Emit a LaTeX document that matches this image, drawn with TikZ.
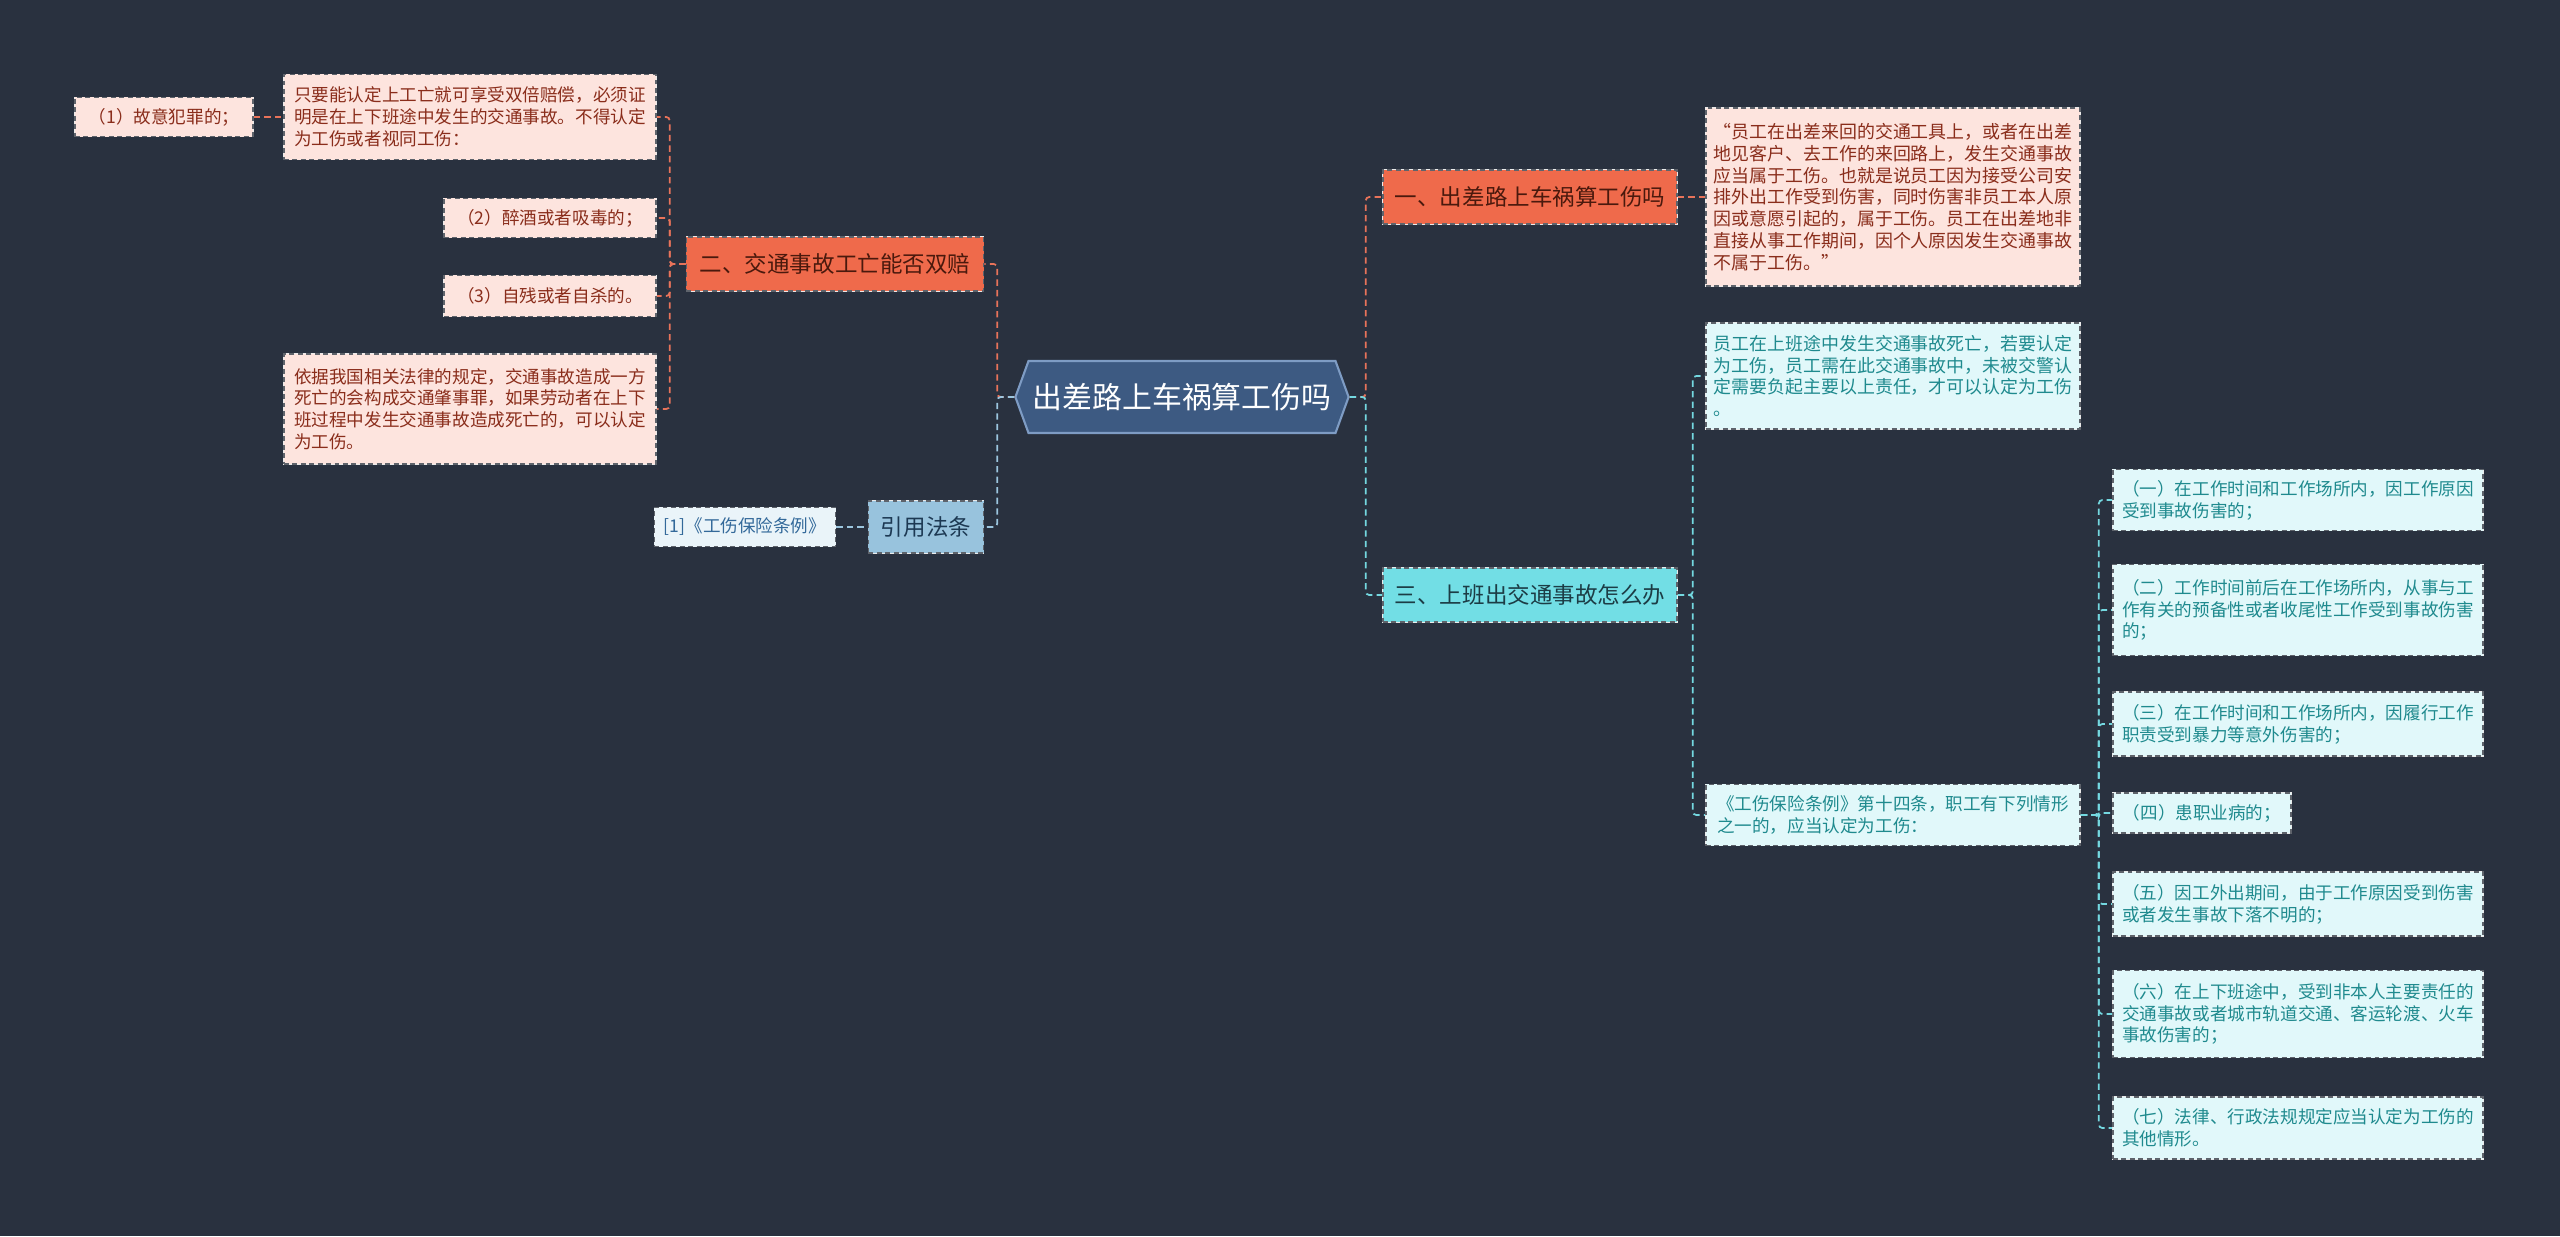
\documentclass[tikz,border=0pt]{standalone}
\usepackage{fontspec}
\setmainfont{Noto Sans CJK SC}
\usetikzlibrary{shapes.symbols}

\definecolor{bgc}{HTML}{29313F}
\definecolor{rootc}{HTML}{3D5A82}
\definecolor{rootedge}{HTML}{7E9CC4}
\definecolor{hotc}{HTML}{EF6A4B}
\definecolor{hottext}{HTML}{4A190D}
\definecolor{pinkc}{HTML}{FDE4DE}
\definecolor{pinktext}{HTML}{8A2D1B}
\definecolor{cyanc}{HTML}{72DEE5}
\definecolor{cyantext}{HTML}{1C3C45}
\definecolor{icec}{HTML}{E1F8FA}
\definecolor{icetext}{HTML}{1F8A8E}
\definecolor{skyc}{HTML}{98C3DD}
\definecolor{skytext}{HTML}{1D3953}
\definecolor{mistc}{HTML}{EAF4F9}
\definecolor{misttext}{HTML}{33699A}
\definecolor{hotline}{HTML}{E8735A}
\definecolor{cyanline}{HTML}{74D8E0}
\definecolor{skyline}{HTML}{9CC6DF}
\definecolor{boxedge}{HTML}{5E636B}

\begin{document}
\begin{tikzpicture}[x=0.01cm,y=0.01cm,
 root/.style={signal,signal to=west and east,signal pointer angle=140,fill=rootc,draw=rootedge,line width=0.6pt,
   text=white,inner sep=0pt,minimum width=3.33cm,minimum height=0.72cm,font=\fontsize{8.5pt}{10pt}\selectfont},
 edge/.style={draw=boxedge,dash pattern=on 1.4pt off 1pt,line width=0.4pt,preaction={draw=white!92!black,solid,line width=0.4pt}},
 head/.style={edge,inner sep=0pt,minimum height=0.54cm,font=\fontsize{6.4pt}{7.5pt}\selectfont},
 hot/.style={head,fill=hotc,text=hottext},
 cool/.style={head,fill=cyanc,text=cyantext},
 cite/.style={head,fill=skyc,text=skytext},
 leaf/.style={edge,align=left,inner sep=0pt,font=\fontsize{5pt}{6.2pt}\selectfont},
 pink/.style={leaf,fill=pinkc,text=pinktext},
 ice/.style={leaf,fill=icec,text=icetext},
 mist/.style={leaf,fill=mistc,text=misttext},
 big/.style={font=\fontsize{5.1pt}{6.2pt}\selectfont},
 link/.style={dash pattern=on 1.8pt off 1.2pt,line width=0.5pt,rounded corners=1pt}]
\useasboundingbox[fill=bgc] (0,0) rectangle (2560,-1236);

\node[root] (root) at (1182,-397) {出差路上车祸算工伤吗};

\node[hot,minimum width=2.94cm] (one) at (1530,-197) {一、出差路上车祸算工伤吗};
\node[pink,big,minimum width=3.74cm,minimum height=1.78cm] (quote) at (1893,-197) {“员工在出差来回的交通工具上，或者在出差\\地见客户、去工作的来回路上，发生交通事故\\应当属于工伤。也就是说员工因为接受公司安\\排外出工作受到伤害，同时伤害非员工本人原\\因或意愿引起的，属于工伤。员工在出差地非\\直接从事工作期间，因个人原因发生交通事故\\不属于工伤。”};

\node[cool,minimum width=2.94cm] (three) at (1530,-595) {三、上班出交通事故怎么办};
\node[ice,big,minimum width=3.74cm,minimum height=1.06cm] (duty) at (1893,-376) {员工在上班途中发生交通事故死亡，若要认定\\为工伤，员工需在此交通事故中，未被交警认\\定需要负起主要以上责任，才可以认定为工伤\\。};
\node[ice,minimum width=3.74cm,minimum height=0.61cm] (regs) at (1893,-815) {《工伤保险条例》第十四条，职工有下列情形\\之一的，应当认定为工伤：};

\node[ice,minimum width=3.70cm,minimum height=0.61cm] (c1) at (2298,-500) {（一）在工作时间和工作场所内，因工作原因\\受到事故伤害的；};
\node[ice,minimum width=3.70cm,minimum height=0.91cm] (c2) at (2298,-610) {（二）工作时间前后在工作场所内，从事与工\\作有关的预备性或者收尾性工作受到事故伤害\\的；};
\node[ice,minimum width=3.70cm,minimum height=0.64cm] (c3) at (2298,-724) {（三）在工作时间和工作场所内，因履行工作\\职责受到暴力等意外伤害的；};
\node[ice,minimum width=1.78cm,minimum height=0.40cm] (c4) at (2202,-813) {（四）患职业病的；};
\node[ice,minimum width=3.70cm,minimum height=0.64cm] (c5) at (2298,-904) {（五）因工外出期间，由于工作原因受到伤害\\或者发生事故下落不明的；};
\node[ice,minimum width=3.70cm,minimum height=0.87cm] (c6) at (2298,-1014) {（六）在上下班途中，受到非本人主要责任的\\交通事故或者城市轨道交通、客运轮渡、火车\\事故伤害的；};
\node[ice,minimum width=3.70cm,minimum height=0.62cm] (c7) at (2298,-1128) {（七）法律、行政法规规定应当认定为工伤的\\其他情形。};

\node[hot,minimum width=2.97cm] (two) at (835,-264) {二、交通事故工亡能否双赔};
\node[pink,minimum width=3.72cm,minimum height=0.85cm] (claim) at (470,-117) {只要能认定上工亡就可享受双倍赔偿，必须证\\明是在上下班途中发生的交通事故。不得认定\\为工伤或者视同工伤：};
\node[pink,minimum width=1.78cm,minimum height=0.39cm] (k1) at (164,-117) {（1）故意犯罪的；};
\node[pink,minimum width=2.12cm,minimum height=0.39cm] (k2) at (550,-218) {（2）醉酒或者吸毒的；};
\node[pink,minimum width=2.12cm,minimum height=0.41cm] (k3) at (550,-296) {（3）自残或者自杀的。};
\node[pink,minimum width=3.72cm,minimum height=1.10cm] (law) at (470,-409) {依据我国相关法律的规定，交通事故造成一方\\死亡的会构成交通肇事罪，如果劳动者在上下\\班过程中发生交通事故造成死亡的，可以认定\\为工伤。};

\node[cite,minimum width=1.15cm,minimum height=0.52cm] (cite) at (926,-527) {引用法条};
\node[mist,minimum width=1.81cm,minimum height=0.39cm] (ref) at (745,-527) {[1]《工伤保险条例》};

\draw[link,hotline] (root.west) -- ++(-17,0) |- (two.east);
\draw[link,skyline] (root.west) -- ++(-17,0) |- (cite.east);
\draw[link,hotline] (root.east) -- ++(16,0) |- (one.west);
\draw[link,cyanline] (root.east) -- ++(16,0) |- (three.west);
\draw[link,hotline] (one.east) -- (quote.west);
\draw[link,cyanline] (three.east) -- ++(15,0) |- (duty.west);
\draw[link,cyanline] (three.east) -- ++(15,0) |- (regs.west);
\foreach \k in {c1,c2,c3,c4,c5,c6,c7}
  \draw[link,cyanline] (regs.east) -- ++(18,0) |- (\k.west);
\foreach \k in {claim,k2,k3,law}
  \draw[link,hotline] (two.west) -- ++(-16,0) |- (\k.east);
\draw[link,hotline] (k1.east) -- (claim.west);
\draw[link,skyline] (ref.east) -- (cite.west);
\end{tikzpicture}
\end{document}
